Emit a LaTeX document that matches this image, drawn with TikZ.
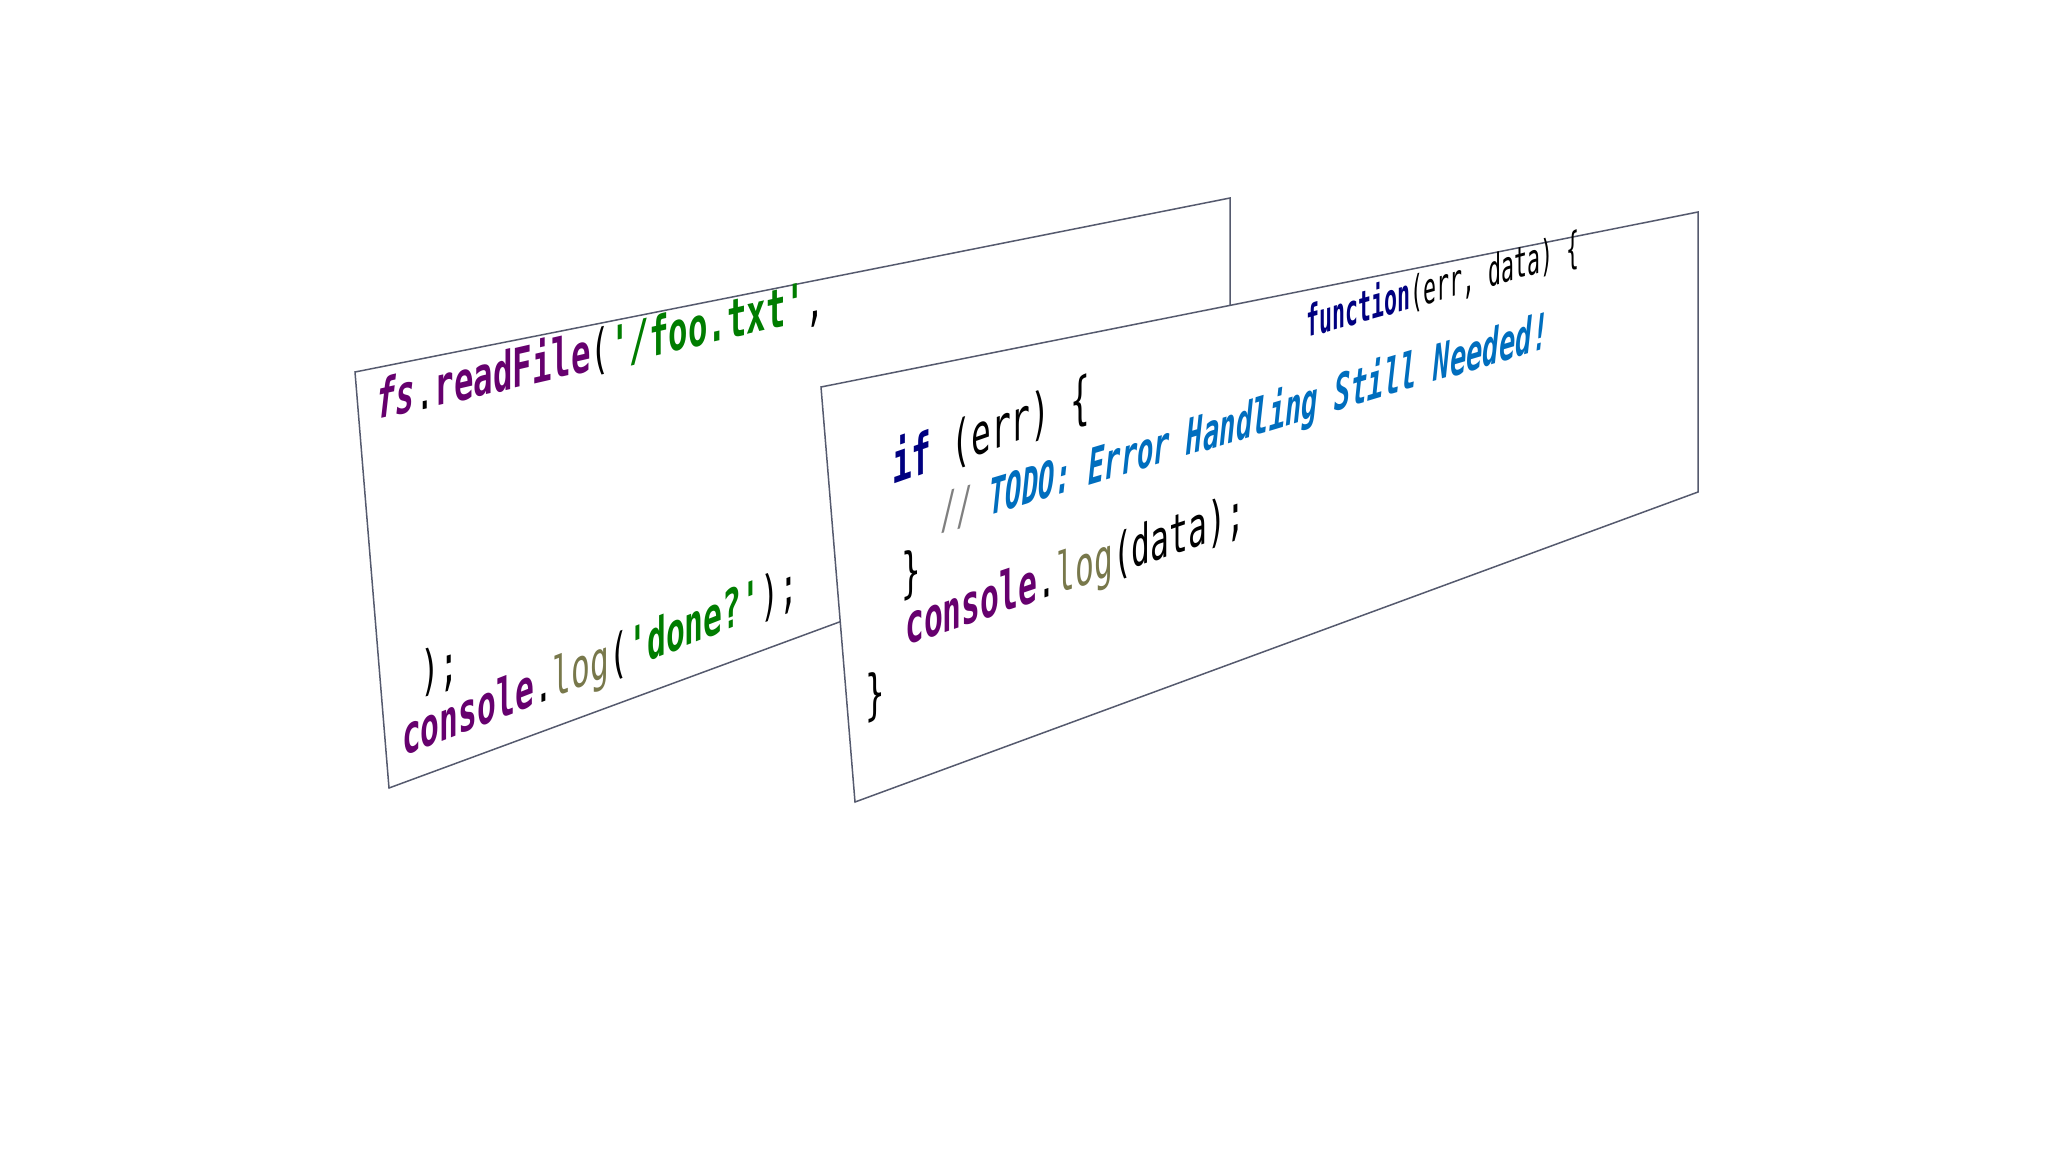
\documentclass[tikz,border=0pt]{standalone}
\usepackage{fontspec}
\setmonofont{DejaVu Sans Mono}
\usepackage{tikz}
\definecolor{kwpurple}{RGB}{102,0,110}
\definecolor{strgreen}{RGB}{0,125,0}
\definecolor{logolive}{RGB}{120,120,75}
\definecolor{kwnavy}{RGB}{0,0,128}
\definecolor{cmtblue}{RGB}{0,110,190}
\definecolor{edgegray}{RGB}{85,90,110}
\newcommand{\obj}[1]{\textcolor{kwpurple}{\bfseries #1}}
\newcommand{\str}[1]{\textcolor{strgreen}{\bfseries #1}}
\newcommand{\meth}[1]{\textcolor{logolive}{#1}}
\newcommand{\kw}[1]{\textcolor{kwnavy}{\bfseries #1}}
\tikzset{panel/.style={draw=edgegray, fill=white, line width=1.5pt},
  code/.style={anchor=base west, inner sep=0pt, transform shape,
    font=\ttfamily\fontsize{54}{60}\selectfont}}

\begin{document}
\begin{tikzpicture}[x=1pt, y=-1pt]
      \useasboundingbox (0,0) rectangle (2048,1152);

      % Panels
      \draw[panel] (355,372) -- (1230,198) -- (1230,478) -- (389,788) -- cycle;
      \draw[panel] (821,387) -- (1698,212) -- (1698,492) -- (855,802) -- cycle;

      % Left panel code
      \node[code, yslant=0.23, xscale=0.6] (readline) at (376,420)
        {\textcolor{kwpurple}{\bfseries\itshape fs}.\obj{readFile}(\str{'/foo.txt'},};
      \node[code, yslant=0.3, xscale=0.6] (closeline) at (420,692) {);};
      \node[code, yslant=0.39, xscale=0.58] (doneline) at (402,757)
        {\obj{console}.\meth{log}(\str{'done?'});};

      % Right panel code
      \node[code, yslant=0.28, xscale=0.5, scale=0.8] (funcline) at (1306,338)
        {\kw{function}(err, data) \{};
      \node[code, yslant=0.35, xscale=0.58, scale=1.05] (ifline) at (892,485)
        {\kw{if} (err) \{};
      \node[code, yslant=0.3, xscale=0.55, scale=0.92] (todoline) at (940,530)
        {\textcolor{gray}{//} \textcolor{cmtblue}{\bfseries\itshape TODO: Error Handling Still Needed!}};
      \node[code, yslant=0.3, xscale=0.6] (closeif) at (901,594) {\}};
      \node[code, yslant=0.34, xscale=0.57, scale=1.02] (dataline) at (905,646)
        {\obj{console}.\meth{log}(data);};
      \node[code, yslant=0.3, xscale=0.6] (closefunc) at (865,716) {\}};
    \end{tikzpicture}
\end{document}
